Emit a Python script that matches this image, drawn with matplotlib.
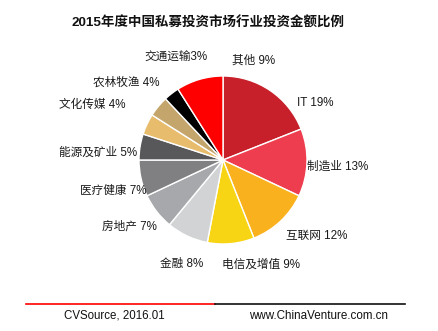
import matplotlib
matplotlib.use("Agg")
import matplotlib.pyplot as plt
from matplotlib.lines import Line2D

plt.rcParams['font.family'] = ['Liberation Sans', 'Noto Sans CJK SC', 'DejaVu Sans']

categories = ["IT", "制造业", "互联网", "电信及增值", "金融", "房地产", "医疗健康",
              "能源及矿业", "文化传媒", "农林牧渔", "交通运输", "其他"]
values = [19, 13, 12, 9, 8, 7, 7, 5, 4, 4, 3, 9]
label_texts = ["IT 19%", "制造业 13%", "互联网 12%", "电信及增值 9%", "金融 8%", "房地产 7%",
               "医疗健康 7%", "能源及矿业 5%", "文化传媒 4%", "农林牧渔 4%", "交通运输3%", "其他 9%"]
colors = ["#C8202A", "#EE3D4E", "#F9B21D", "#F7D515", "#D1D3D5", "#A7A8AB", "#808083",
          "#58585A", "#E8BC6D", "#C4A66D", "#000000", "#FF0000"]

title = "2015年度中国私募投资市场行业投资金额比例"
source_left = "CVSource, 2016.01"
source_right = "www.ChinaVenture.com.cn"

# label centre positions in figure pixels (layout, from top-left)
label_layout = [(315, 103), (337.5, 167), (317, 236), (260.5, 265), (181.5, 264),
                (129.5, 227), (113, 191), (98, 153), (92.5, 105), (126.5, 83),
                (175.5, 58), (254, 61)]

W, H = 438, 331
fig = plt.figure(figsize=(W / 100, H / 100), dpi=100)
cx, cy, r = 223, 160, 84
ax = fig.add_axes([(cx - r) / W, (H - cy - r) / H, 2 * r / W, 2 * r / H])
wedges, _ = ax.pie(values, colors=colors, startangle=90, counterclock=False,
                   wedgeprops=dict(edgecolor="white", linewidth=1))
ax.set_aspect("equal")
ax.set_xlim(-1, 1)
ax.set_ylim(-1, 1)

for txt, (px, py) in zip(label_texts, label_layout):
    fig.text(px / W, 1 - py / H, txt, ha="center", va="center", fontsize=8.4, color="#1a1a1a")

fig.text(208 / W, 1 - 23 / H, title, ha="center", va="center", fontsize=9.7,
         fontweight="bold", color="#111111")

fig.add_artist(Line2D([26 / W, 215 / W], [1 - 304 / H, 1 - 304 / H], color="#FF0000", lw=1.2))
fig.add_artist(Line2D([215 / W, 405 / W], [1 - 304 / H, 1 - 304 / H], color="#111111", lw=1.2))
fig.text(114 / W, 1 - 316 / H, source_left, ha="center", va="center", fontsize=8.3, color="#111111")
fig.text(318.5 / W, 1 - 316 / H, source_right, ha="center", va="center", fontsize=8.4, color="#111111")

fig.savefig("out.png", dpi=100)
